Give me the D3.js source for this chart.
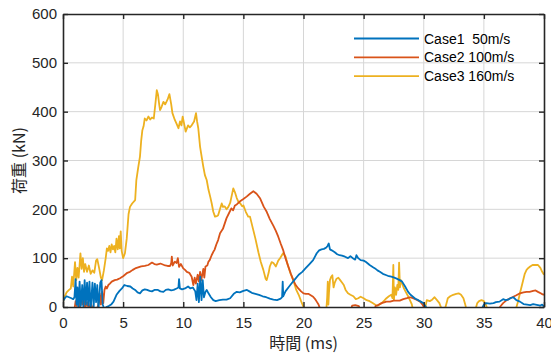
<!DOCTYPE html>
<html>
<head>
<meta charset="utf-8">
<script src="https://cdn.jsdelivr.net/npm/d3@7"></script>
<style>
  html, body { margin: 0; padding: 0; background: #fff; }
  svg { display: block; }
</style>
</head>
<body>
<svg id="chart" width="551" height="356"></svg>
<script>
// ---------- data ----------
const seriesNames = ["Case1  50m/s", "Case2 100m/s", "Case3 160m/s"];
const seriesColors = ["#0072BD", "#D95319", "#EDB120"];
const xTicks = [0, 5, 10, 15, 20, 25, 30, 35, 40];
const yTicks = [0, 100, 200, 300, 400, 500, 600];
const xLabel = "時間 (ms)";
const yLabel = "荷重 (kN)";

const case1T = [0,0.15,0.3,0.5,0.7,0.85,0.95,1.05,1.12,1.2,1.28,1.38,1.48,1.6,1.7,1.8,1.9,2.0,2.1,2.2,2.3,2.45,2.55,2.65,2.75,2.85,2.95,3.1,3.2,3.3,3.45,3.6,3.8,4.0,4.2,4.45,4.7,4.9,5.1,5.35,5.6,5.8,6.0,6.2,6.4,6.6,6.8,7.0,7.2,7.4,7.6,7.9,8.1,8.35,8.55,8.75,9.0,9.2,9.45,9.6,9.65,9.72,9.9,10.15,10.4,10.6,10.8,11.0,11.1,11.2,11.3,11.42,11.52,11.62,11.72,11.85,11.95,12.1,12.3,12.5,12.7,13.0,13.3,13.6,13.9,14.2,14.45,14.7,15.0,15.3,15.5,15.7,16.0,16.3,16.6,16.9,17.2,17.5,17.8,18.1,18.22,18.27,18.32,18.5,18.74,19.0,19.3,19.6,19.9,20.2,20.5,20.8,21.1,21.3,21.5,21.7,21.9,22.0,22.1,22.2,22.35,22.6,22.8,23.0,23.2,23.45,23.7,23.9,24.1,24.3,24.4,24.55,24.75,25.0,25.2,25.5,25.75,25.95,26.15,26.35,26.6,26.9,27.1,27.3,27.55,27.75,28.0,28.2,28.45,28.7,28.9,29.1,29.3,29.55,29.75,29.96,30.1,30.3,34.8,35.0,35.2,35.5,35.8,36.0,36.3,36.6,36.8,37.0,37.2,37.45,37.7,38.0,38.3,38.6,38.85,39.1,39.3,39.5,39.7,39.85,40.0];
const case1V = [12,18,22,20,18,16,20,57,5,40,-5,52,2,45,0,55,5,50,3,52,-5,50,0,48,10,45,-5,50,55,5,-5,0,2,5,11,25,33,38,45,43,42,38,35,30,28,34,36,35,33,32,35,35,32,31,35,36,34,35,38,40,57,38,36,38,42,38,40,32,14,48,10,62,14,55,20,31,35,28,20,14,12,14,15,15,18,27,31,30,33,35,32,29,27,25,22,20,17,15,14,17,20,52,22,32,40,48,57,66,72,80,88,96,110,116,118,119,122,125,130,118,116,112,108,106,105,103,100,104,100,97,106,100,96,95,92,86,82,79,75,72,68,65,63,62,60,58,55,52,42,31,25,21,17,14,11,8,3,-5,-5,5,8,7,8,10,11,16,14,15,18,20,14,11,6,5,4,6,5,4,3,5,1];

const case2T = [0.95,1.05,1.15,1.27,1.37,1.5,1.6,1.7,1.85,2.0,2.15,2.3,2.5,2.8,2.95,3.05,3.15,3.25,3.35,3.45,3.55,3.65,3.77,3.9,4.05,4.3,4.5,4.74,5.0,5.15,5.35,5.57,5.8,6.0,6.25,6.5,6.8,7.1,7.4,7.6,7.8,8.1,8.3,8.5,8.7,8.9,9.0,9.05,9.12,9.3,9.45,9.55,9.65,9.8,10.0,10.15,10.3,10.5,10.7,10.84,10.95,11.05,11.2,11.3,11.4,11.5,11.67,11.75,11.85,12.0,12.1,12.2,12.36,12.5,12.6,12.75,12.9,13.06,13.3,13.6,13.8,14.0,14.15,14.3,14.45,14.7,15.0,15.27,15.55,15.83,16.1,16.4,16.7,16.94,17.2,17.5,17.7,17.9,18.1,18.3,18.5,18.74,18.95,19.15,19.35,19.57,19.8,20.0,20.2,20.4,20.6,20.8,21.0,21.1,21.25,21.4,23.95,24.05,24.3,24.6,24.7,25.9,26.0,26.2,26.5,26.9,27.2,27.5,27.8,28.0,28.3,28.6,28.85,29.1,29.4,29.7,29.9,30.1,36.2,36.4,36.6,36.9,37.2,37.45,37.7,38.0,38.3,38.55,38.8,39.1,39.3,39.5,39.8,40.0];
const case2V = [-5,12,2,31,-3,25,5,18,-2,10,-5,8,-5,-5,5,28,5,31,8,35,42,38,45,48,52,55,56,59,63,66,70,72,76,79,81,83,84,86,91,88,87,89,87,85,84,84,90,103,85,93,90,100,82,88,79,76,72,70,62,45,60,48,66,52,72,55,78,60,83,85,93,96,106,113,117,128,137,151,160,182,192,202,198,208,210,216,221,226,232,237,232,222,205,195,180,166,156,144,130,117,100,83,68,55,45,38,32,28,27,27,24,21,15,11,5,-5,-5,3,4,2,-5,-5,2,4,8,11,11,13,13,13,16,18,20,18,15,11,5,-5,-5,2,8,14,18,21,24,28,30,31,31,33,34,31,27,25];

const case3T = [0,0.15,0.3,0.5,0.65,0.75,0.85,1.0,1.1,1.2,1.3,1.45,1.55,1.65,1.75,1.85,2.0,2.15,2.3,2.45,2.6,2.75,2.85,3.0,3.15,3.25,3.4,3.55,3.65,3.75,3.85,3.95,4.05,4.15,4.25,4.35,4.45,4.55,4.65,4.72,4.8,4.88,5.0,5.15,5.3,5.45,5.57,5.75,6.0,6.1,6.25,6.4,6.5,6.6,6.7,6.8,6.95,7.1,7.25,7.4,7.55,7.7,7.8,7.9,8.0,8.07,8.2,8.35,8.5,8.7,8.85,9.0,9.1,9.3,9.45,9.6,9.73,9.85,9.95,10.1,10.2,10.4,10.55,10.7,10.9,11.06,11.15,11.25,11.4,11.55,11.67,11.8,11.95,12.1,12.25,12.36,12.5,12.64,12.8,12.9,13.05,13.2,13.3,13.45,13.6,13.75,13.9,14.05,14.16,14.3,14.45,14.6,14.75,14.9,15.0,15.2,15.4,15.55,15.8,16.0,16.25,16.45,16.66,16.85,16.94,17.1,17.2,17.35,17.5,17.7,17.9,18.05,18.3,18.5,18.7,18.9,19.15,19.4,19.6,19.8,20.0,20.1,21.9,21.97,22.02,22.07,22.12,22.2,22.3,22.4,22.5,22.6,22.75,22.9,23.05,23.2,23.35,23.5,23.7,23.9,24.15,24.35,24.55,24.75,25.0,25.25,25.5,25.75,26.0,26.2,26.5,26.75,26.9,27.1,27.3,27.4,27.47,27.52,27.6,27.7,27.8,27.88,27.95,28.02,28.1,28.2,28.35,28.5,28.7,28.85,29.0,29.1,30.1,30.25,30.5,30.7,30.9,31.1,31.3,31.5,31.75,31.9,32.0,32.2,32.45,32.7,32.9,33.1,33.3,33.45,33.55,34.3,34.45,34.6,34.8,35.0,35.15,35.3,37.65,37.85,38.0,38.2,38.4,38.55,38.7,38.85,39.05,39.25,39.5,39.7,39.85,40.0];
const case3V = [10,22,30,35,38,62,42,92,55,80,60,110,78,100,72,88,72,85,68,75,70,95,98,80,60,55,75,100,120,115,125,112,128,118,125,112,140,118,145,120,155,115,100,110,140,190,205,212,219,260,285,308,340,362,370,386,382,390,384,388,386,420,444,435,415,403,410,420,415,425,436,415,397,383,375,366,380,372,390,372,359,372,368,372,380,397,380,366,328,305,287,270,260,240,225,213,195,185,186,188,200,212,205,206,200,205,213,230,243,235,223,215,212,206,208,195,185,185,160,140,112,92,76,58,55,70,83,92,90,83,95,100,110,104,85,70,55,35,25,12,0,-5,-5,20,52,5,30,55,62,65,40,50,58,60,55,50,45,35,28,25,22,16,18,21,18,14,12,8,4,3,8,14,18,22,25,18,86,14,40,25,45,35,91,40,55,48,38,31,22,14,6,-5,-5,14,12,15,20,14,8,-5,-5,8,18,22,25,27,28,25,18,5,-5,-5,8,12,14,12,6,-5,-5,12,28,48,68,76,80,83,86,86,86,80,72,66];

// ---------- layout ----------
const svg = d3.select("#chart");
const x = d3.scaleLinear().domain([0, 40]).range([63, 544]);
const y = d3.scaleLinear().domain([0, 600]).range([307, 14]);

const tickFont = "'Liberation Sans', Arial, sans-serif";
const jpFont = "'Noto Sans CJK JP', sans-serif";

svg.append("defs").append("clipPath").attr("id", "plotclip")
  .append("rect")
  .attr("x", x(0)).attr("y", y(600))
  .attr("width", x(40) - x(0)).attr("height", y(0) - y(600));

// grid
const grid = svg.append("g");
grid.selectAll("line.gx").data(xTicks.slice(1, -1)).join("line")
  .attr("x1", d => x(d)).attr("x2", d => x(d))
  .attr("y1", y(0)).attr("y2", y(600))
  .attr("stroke", "#d6d6d6").attr("stroke-width", 1);
grid.selectAll("line.gy").data(yTicks.slice(1, -1)).join("line")
  .attr("y1", d => y(d)).attr("y2", d => y(d))
  .attr("x1", x(0)).attr("x2", x(40))
  .attr("stroke", "#d6d6d6").attr("stroke-width", 1);

// lines
const seriesT = [case1T, case2T, case3T];
const seriesV = [case1V, case2V, case3V];
const lineGen = d3.line().x(d => x(d[0])).y(d => y(d[1]));
const plot = svg.append("g").attr("clip-path", "url(#plotclip)");
[2, 1, 0].forEach(i => {
  const pts = seriesT[i].map((t, k) => [t, seriesV[i][k]]);
  plot.append("path").datum(pts)
    .attr("fill", "none")
    .attr("stroke", seriesColors[i])
    .attr("stroke-width", 1.8)
    .attr("stroke-linejoin", "round")
    .attr("d", lineGen);
});

// axes
function styleAxis(g, showText) {
  g.select(".domain").attr("stroke", "#262626").attr("stroke-width", 1.6);
  g.selectAll(".tick line").attr("stroke", "#262626").attr("stroke-width", 1.4);
  g.selectAll(".tick text").attr("fill", "#262626")
    .style("font-family", tickFont).style("font-size", "15px");
  if (!showText) g.selectAll(".tick text").remove();
}
const xb = svg.append("g").attr("transform", `translate(0,${y(0)})`)
  .call(d3.axisBottom(x).tickValues(xTicks).tickSize(-5).tickSizeOuter(0).tickPadding(10).tickFormat(d3.format("d")));
styleAxis(xb, true);
const xt = svg.append("g").attr("transform", `translate(0,${y(600)})`)
  .call(d3.axisTop(x).tickValues(xTicks).tickSize(-5).tickSizeOuter(0));
styleAxis(xt, false);
const yl = svg.append("g").attr("transform", `translate(${x(0)},0)`)
  .call(d3.axisLeft(y).tickValues(yTicks).tickSize(-5).tickSizeOuter(0).tickPadding(6).tickFormat(d3.format("d")));
styleAxis(yl, true);
const yr = svg.append("g").attr("transform", `translate(${x(40)},0)`)
  .call(d3.axisRight(y).tickValues(yTicks).tickSize(-5).tickSizeOuter(0));
styleAxis(yr, false);

// axis labels
svg.append("text")
  .attr("x", (x(0) + x(40)) / 2).attr("y", 349)
  .attr("text-anchor", "middle")
  .style("font-family", jpFont).style("font-size", "16px").attr("fill", "#262626")
  .text(xLabel);
svg.append("text")
  .attr("transform", `translate(25,${(y(0) + y(600)) / 2}) rotate(-90)`)
  .attr("text-anchor", "middle")
  .style("font-family", jpFont).style("font-size", "16px").attr("fill", "#262626")
  .text(yLabel);

// legend
const legend = svg.append("g");
seriesNames.forEach((name, i) => {
  const ly = 38.5 + i * 18.8;
  legend.append("line")
    .attr("x1", 354).attr("x2", 419).attr("y1", ly).attr("y2", ly)
    .attr("stroke", seriesColors[i]).attr("stroke-width", 1.8);
  legend.append("text")
    .attr("x", 424).attr("y", ly + 5)
    .attr("xml:space", "preserve").style("white-space", "pre")
    .style("font-family", tickFont).style("font-size", "14px").attr("fill", "#000")
    .text(name);
});
</script>
</body>
</html>
